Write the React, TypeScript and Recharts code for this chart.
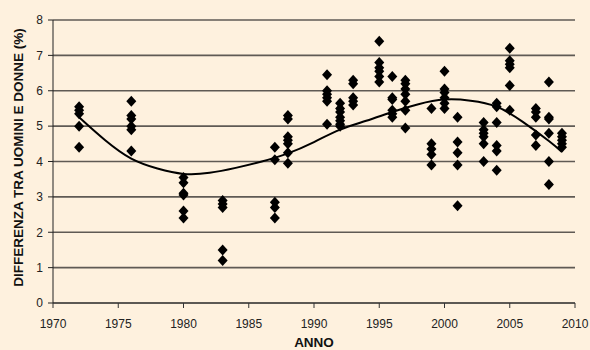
import { ComposedChart, Scatter, Line, XAxis, YAxis, CartesianGrid, Label } from 'recharts'

// survey years and the gap values (%) read for each year
const years = [1972, 1976, 1980, 1983, 1987, 1988, 1991, 1992, 1993, 1995, 1996, 1997, 1999, 2000, 2001, 2003, 2004, 2005, 2007, 2008, 2009]
const gapValues = [
  [5.55, 5.45, 5.35, 5.0, 4.4],
  [5.7, 5.3, 5.2, 5.0, 4.9, 4.3],
  [3.55, 3.4, 3.1, 3.05, 2.6, 2.4],
  [2.9, 2.8, 2.7, 1.5, 1.2],
  [4.4, 4.05, 2.85, 2.7, 2.4],
  [5.3, 5.2, 4.7, 4.6, 4.5, 4.25, 3.95],
  [6.45, 6.0, 5.9, 5.8, 5.7, 5.05],
  [5.65, 5.5, 5.4, 5.25, 5.15, 5.05, 5.0],
  [6.3, 6.2, 5.8, 5.7, 5.6],
  [7.4, 6.8, 6.65, 6.55, 6.4, 6.25],
  [6.4, 5.8, 5.75, 5.45, 5.35, 5.25],
  [6.3, 6.2, 6.05, 5.9, 5.7, 5.45, 4.95],
  [5.5, 4.5, 4.35, 4.2, 3.9],
  [6.55, 6.05, 5.95, 5.8, 5.65, 5.5],
  [5.25, 4.55, 4.25, 3.9, 2.75],
  [5.1, 4.9, 4.8, 4.7, 4.5, 4.0],
  [5.65, 5.55, 5.1, 4.45, 4.3, 3.75],
  [7.2, 6.85, 6.75, 6.65, 6.15, 5.45],
  [5.5, 5.4, 5.25, 4.75, 4.45],
  [6.25, 5.25, 5.2, 4.8, 4.0, 3.35],
  [4.8, 4.7, 4.6, 4.5, 4.4],
]

// trend line
const trendYears = [1972, 1974, 1976, 1978, 1980, 1982, 1984, 1986, 1988, 1990, 1992, 1994, 1996, 1998, 2000, 2002, 2004, 2006, 2008, 2009]
const trendValues = [5.25, 4.6, 4.08, 3.8, 3.65, 3.68, 3.82, 4.0, 4.23, 4.55, 4.9, 5.15, 5.4, 5.62, 5.75, 5.72, 5.55, 5.12, 4.58, 4.27]

const xTicks = [1970, 1975, 1980, 1985, 1990, 1995, 2000, 2005, 2010]
const yTicks = [0, 1, 2, 3, 4, 5, 6, 7, 8]

const points = years.flatMap((year, i) => gapValues[i].map(value => ({ year, value })))
const trend = trendYears.map((year, i) => ({ year, value: trendValues[i] }))

const FONT = '"Liberation Sans", Arial, sans-serif'
const BG = '#FEF1DE'

const Diamond = (props: any) => {
  const { cx, cy } = props
  if (cx == null || cy == null) return null
  return <polygon points={`${cx},${cy - 5.5} ${cx + 5},${cy} ${cx},${cy + 5.5} ${cx - 5},${cy}`} fill="#000" />
}

export default function App() {
  return (
    <div style={{ position: 'absolute', left: 0, top: 0, width: 590, height: 350, background: BG, overflow: 'hidden' }}>
      <ComposedChart width={590} height={350} margin={{ top: 20, right: 15, bottom: 0, left: 0 }} style={{ fontFamily: FONT }}>
        <CartesianGrid horizontal vertical={false} stroke="#5f5a54" strokeWidth={1.6} />
        <XAxis
          type="number"
          dataKey="year"
          domain={[1970, 2010]}
          ticks={xTicks}
          height={47}
          tickSize={5}
          tickMargin={11}
          stroke="#333"
          tick={{ fill: '#222', fontSize: 12, fontFamily: FONT }}
        >
          <Label
            content={({ viewBox }: any) => (
              <text x={viewBox.x + viewBox.width / 2} y={347} textAnchor="middle" fontSize={13.5} fontWeight="bold" fill="#111" fontFamily={FONT}>
                ANNO
              </text>
            )}
          />
        </XAxis>
        <YAxis
          type="number"
          dataKey="value"
          domain={[0, 8]}
          ticks={yTicks}
          width={53}
          tickSize={5}
          tickMargin={5}
          stroke="#222"
          tick={{ fill: '#222', fontSize: 12, fontFamily: FONT }}
        >
          <Label
            content={({ viewBox }: any) => {
              const cx = 18
              const cy = viewBox.y + viewBox.height / 2 - 4
              return (
                <text x={cx} y={cy} transform={`rotate(-90, ${cx}, ${cy})`} textAnchor="middle" dominantBaseline="central" fontSize={13.5} fontWeight="bold" fill="#111" fontFamily={FONT}>
                  DIFFERENZA TRA UOMINI E DONNE (%)
                </text>
              )
            }}
          />
        </YAxis>
        <Scatter data={points} dataKey="value" shape={<Diamond />} isAnimationActive={false} />
        <Line data={trend} dataKey="value" type="natural" stroke="#000" strokeWidth={2} dot={false} activeDot={false} isAnimationActive={false} />
      </ComposedChart>
    </div>
  )
}
